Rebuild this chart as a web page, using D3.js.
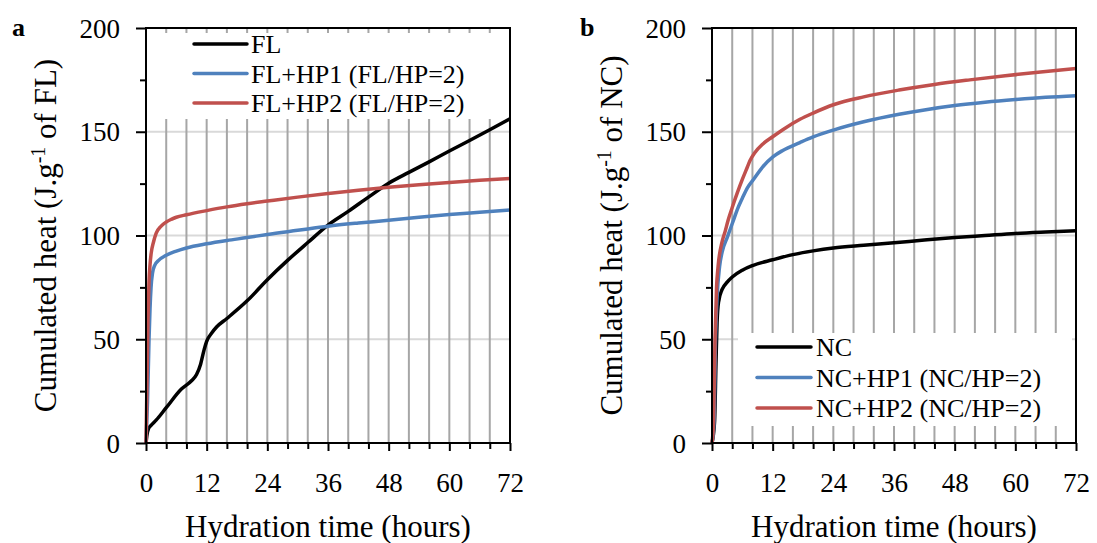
<!DOCTYPE html>
<html>
<head>
<meta charset="utf-8">
<script src="https://cdn.jsdelivr.net/npm/d3@7"></script>
<style>
  html, body { margin: 0; padding: 0; background: #fff; }
  svg { display: block; }
  text { font-family: "Liberation Serif", "Times New Roman", serif; fill: #000; }
</style>
</head>
<body>
<svg id="chart" width="1097" height="543"></svg>
<script>
// ---------------- data ----------------
const xTicks = [0, 12, 24, 36, 48, 60, 72];
const yTicks = [0, 50, 100, 150, 200];

// Panel a
const flTime  = [0, 0.2, 0.5, 1, 2, 4, 7, 9, 10, 10.8, 11.5, 12, 13, 14, 16, 20, 24, 28, 32, 36, 40, 44, 48, 52, 56, 60, 64, 68, 72];
const flHeat  = [0, 4, 7, 8.5, 11, 17, 26, 30, 33, 38, 45, 49, 53, 56, 60, 68.5, 78.7, 88, 96.6, 105, 111.6, 118.5, 125.2, 130.4, 135.5, 140.7, 145.8, 151, 156.3];
const flHp1Time = [0, 0.3, 0.6, 0.8, 1.0, 1.3, 1.7, 2.5, 4, 6, 8, 12, 16, 20, 24, 30, 36, 42, 48, 54, 60, 66, 72];
const flHp1Heat = [0, 20, 50, 65, 75, 82, 85.5, 88, 90.5, 92.5, 94, 96, 97.6, 99, 100.5, 102.5, 104.5, 106, 107.3, 108.8, 110.1, 111.2, 112.3];
const flHp2Time = [0, 0.2, 0.4, 0.6, 0.8, 1.0, 1.5, 2, 3, 4, 5, 6, 8, 12, 16, 20, 24, 30, 36, 42, 48, 54, 60, 66, 72];
const flHp2Heat = [0, 30, 60, 78, 86, 91, 97, 101, 104.5, 106.5, 107.8, 108.8, 110, 112, 113.8, 115.3, 116.6, 118.5, 120.2, 121.8, 123.2, 124.5, 125.6, 126.6, 127.5];

// Panel b
const ncTime = [0, 0.5, 0.8, 1.0, 1.3, 2, 3, 4, 6, 8, 12, 16, 20, 24, 30, 36, 42, 48, 54, 60, 66, 72];
const ncHeat = [0, 10, 40, 58, 68, 74, 77.5, 80, 83.3, 85.5, 88.3, 90.8, 92.6, 94, 95.3, 96.5, 97.8, 99, 100, 101, 101.7, 102.3];
const ncHp1Time = [0, 0.4, 0.7, 1.0, 1.5, 2, 3, 4.2, 5, 6, 7, 8.2, 10, 12.1, 14, 17.4, 20, 24, 30, 37, 42, 48, 54, 60, 66, 72];
const ncHp1Heat = [0, 10, 50, 70, 85, 92, 99, 107, 112.5, 118, 123, 127, 133, 138, 141, 144.8, 147.5, 150.8, 154.8, 158.4, 160.5, 162.6, 164.2, 165.5, 166.6, 167.4];
const ncHp2Time = [0, 0.3, 0.6, 0.9, 1.2, 2, 2.6, 3.2, 4, 5, 6, 7, 7.5, 8.5, 10, 12, 14, 17.4, 20, 24, 30, 37, 44, 51, 58, 65, 72];
const ncHp2Heat = [0, 10, 50, 75, 85, 97, 102, 107.5, 113.5, 120.5, 127, 133, 136, 140, 144, 147.6, 151, 156, 159, 163, 166.8, 170.1, 172.8, 175, 177, 178.8, 180.5];

const labelsA = ["FL", "FL+HP1 (FL/HP=2)", "FL+HP2 (FL/HP=2)"];
const labelsB = ["NC", "NC+HP1 (NC/HP=2)", "NC+HP2 (NC/HP=2)"];
const colors = ["#000000", "#4f81bd", "#c0504d"];

// ---------------- drawing ----------------
const svg = d3.select("#chart");
svg.append("rect").attr("width", 1097).attr("height", 543).attr("fill", "#fff");

const TOP = 28, BOTTOM = 443;

function panel(cfg) {
  const g = svg.append("g");
  const x = d3.scaleLinear().domain([0, 72]).range([cfg.left, cfg.right]);
  const y = d3.scaleLinear().domain([0, 200]).range([BOTTOM, TOP]);

  // horizontal gridlines
  g.selectAll(".hgrid").data([50, 100, 150]).enter().append("line")
    .attr("x1", cfg.left).attr("x2", cfg.right)
    .attr("y1", d => y(d)).attr("y2", d => y(d))
    .attr("stroke", "#d9d9d9").attr("stroke-width", 2);

  // vertical gridlines every 4 h
  const vg = d3.range(4, 72, 4);
  g.selectAll(".vgrid").data(vg).enter().append("line")
    .attr("x1", d => x(d)).attr("x2", d => x(d))
    .attr("y1", TOP).attr("y2", BOTTOM)
    .attr("stroke", "#a6a6a6").attr("stroke-width", 2);

  // legend box (white, covers gridlines)
  g.append("rect")
    .attr("x", cfg.legBox[0]).attr("y", cfg.legBox[1])
    .attr("width", cfg.legBox[2]).attr("height", cfg.legBox[3])
    .attr("fill", "#fff");

  // curves
  const line = d3.line().x(d => x(d[0])).y(d => y(d[1])).curve(d3.curveMonotoneX);
  cfg.series.forEach((s, i) => {
    const pts = s.t.map((t, k) => [t, s.v[k]]);
    g.append("path").datum(pts)
      .attr("d", line)
      .attr("fill", "none")
      .attr("stroke", colors[i])
      .attr("stroke-width", 3.5)
      .attr("stroke-linejoin", "round");
  });

  // plot border
  g.append("rect")
    .attr("x", cfg.left).attr("y", TOP)
    .attr("width", cfg.right - cfg.left).attr("height", BOTTOM - TOP)
    .attr("fill", "none").attr("stroke", "#000").attr("stroke-width", 2);

  // y axis
  const yAxis = d3.axisLeft(y).tickValues(yTicks).tickSize(10).tickPadding(16)
    .tickFormat(d3.format("d"));
  const ya = g.append("g").attr("transform", `translate(${cfg.left},0)`).call(yAxis);
  ya.select(".domain").remove();
  ya.selectAll(".tick line").attr("stroke", "#000").attr("stroke-width", 2);
  ya.selectAll(".tick text")
    .style("font-family", '"Liberation Serif", serif').style("font-size", "27px")
    .attr("fill", "#000").attr("dy", "0.34em");
  // minor y ticks
  const yMinor = d3.axisLeft(y).tickValues([25, 75, 125, 175]).tickSize(6).tickFormat("");
  const ym = g.append("g").attr("transform", `translate(${cfg.left},0)`).call(yMinor);
  ym.select(".domain").remove();
  ym.selectAll(".tick line").attr("stroke", "#000").attr("stroke-width", 2);

  // x axis
  const xAxis = d3.axisBottom(x).tickValues(xTicks).tickSize(8).tickPadding(22)
    .tickFormat(d3.format("d"));
  const xa = g.append("g").attr("transform", `translate(0,${BOTTOM})`).call(xAxis);
  xa.select(".domain").remove();
  xa.selectAll(".tick line").attr("stroke", "#000").attr("stroke-width", 2);
  xa.selectAll(".tick text")
    .style("font-family", '"Liberation Serif", serif').style("font-size", "27px")
    .attr("fill", "#000");
  const xMinor = d3.axisBottom(x).tickValues(d3.range(4, 72, 4).filter(d => d % 12 !== 0))
    .tickSize(6).tickFormat("");
  const xm = g.append("g").attr("transform", `translate(0,${BOTTOM})`).call(xMinor);
  xm.select(".domain").remove();
  xm.selectAll(".tick line").attr("stroke", "#000").attr("stroke-width", 2);

  // axis titles
  g.append("text")
    .attr("x", (cfg.left + cfg.right) / 2).attr("y", 537)
    .attr("text-anchor", "middle").style("font-size", "31px")
    .text("Hydration time (hours)");

  const yt = g.append("text")
    .attr("transform", `translate(${cfg.left - 90},${(TOP + BOTTOM) / 2}) rotate(-90)`)
    .attr("text-anchor", "middle").style("font-size", "31px");
  yt.append("tspan").text("Cumulated heat (J.g");
  yt.append("tspan").attr("dy", -11).style("font-size", "20px").text("-1");
  yt.append("tspan").attr("dy", 11).text(" of " + cfg.unit + ")");

  // panel letter
  g.append("text").attr("x", cfg.letterX).attr("y", 36)
    .style("font-size", "26px").style("font-weight", "bold").text(cfg.letter);

  // legend entries
  cfg.labels.forEach((lab, i) => {
    const ly = cfg.legRows[i];
    g.append("line")
      .attr("x1", cfg.legLine[0]).attr("x2", cfg.legLine[1])
      .attr("y1", ly).attr("y2", ly)
      .attr("stroke", colors[i]).attr("stroke-width", 3.5)
      .attr("stroke-linecap", "round");
    g.append("text").attr("x", cfg.legText).attr("y", ly + 9)
      .style("font-size", "26px").text(lab);
  });
}

panel({
  left: 146, right: 510, unit: "FL", letter: "a", letterX: 12,
  legBox: [147, 33, 362, 86],
  legLine: [194, 247], legText: 251, legRows: [44, 73.5, 103],
  labels: labelsA,
  series: [
    { t: flTime, v: flHeat },
    { t: flHp1Time, v: flHp1Heat },
    { t: flHp2Time, v: flHp2Heat }
  ]
});

panel({
  left: 712, right: 1076, unit: "NC", letter: "b", letterX: 580,
  legBox: [738, 333, 334, 93],
  legLine: [757, 811], legText: 816, legRows: [347, 377.5, 408],
  labels: labelsB,
  series: [
    { t: ncTime, v: ncHeat },
    { t: ncHp1Time, v: ncHp1Heat },
    { t: ncHp2Time, v: ncHp2Heat }
  ]
});
</script>
</body>
</html>
